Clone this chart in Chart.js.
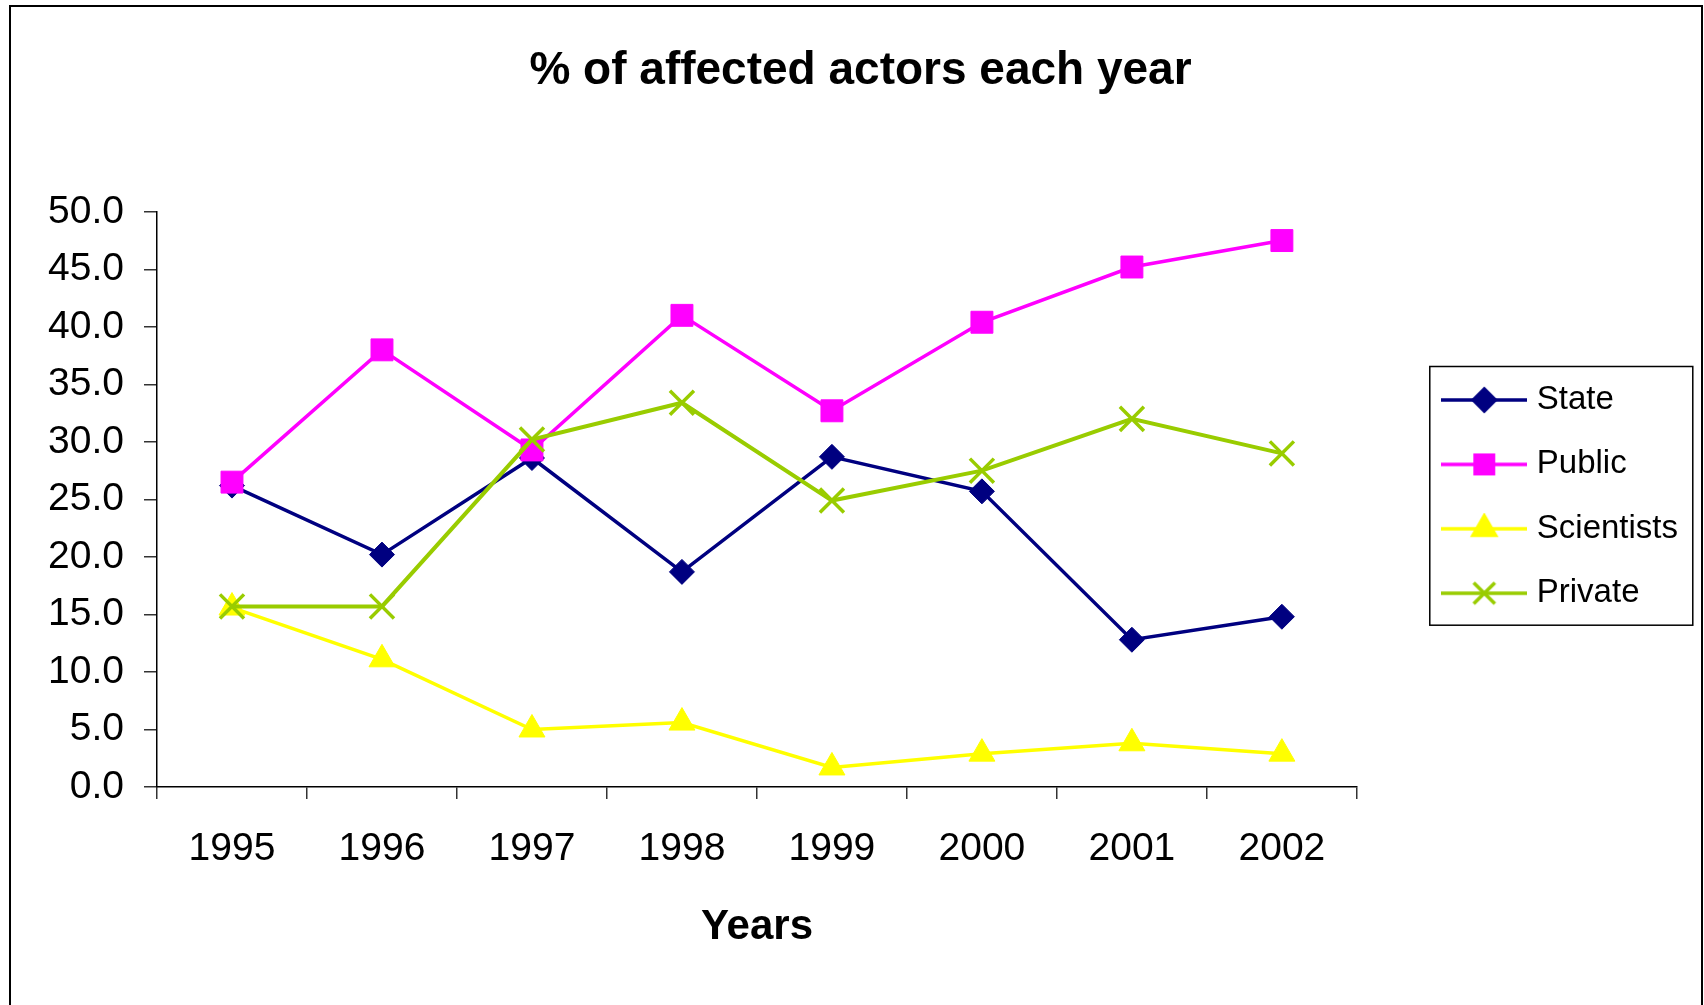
<!DOCTYPE html>
<html>
<head>
<meta charset="utf-8">
<script src="https://cdn.jsdelivr.net/npm/chart.js@4/dist/chart.umd.min.js"></script>
<style>
  html, body { margin: 0; padding: 0; background: #fff; }
  canvas { display: block; }
</style>
</head>
<body>
<canvas id="myChart" width="1704" height="1005"></canvas>
<script>
const years = ['1995', '1996', '1997', '1998', '1999', '2000', '2001', '2002'];
const stateData = [26.2, 20.2, 28.6, 18.7, 28.7, 25.7, 12.8, 14.8];
const publicData = [26.5, 38.0, 29.3, 41.0, 32.7, 40.4, 45.2, 47.5];
const scientistsData = [15.6, 11.1, 5.0, 5.6, 1.7, 2.9, 3.8, 2.9];
const privateData = [15.7, 15.7, 30.2, 33.4, 24.9, 27.5, 32.0, 29.0];

const FONT = '"Liberation Sans", Arial, sans-serif';

// legend icon: a short line with the marker in the middle
function legendIcon(color, style, radius) {
  const c = document.createElement('canvas');
  c.width = 86;
  c.height = 32;
  const g = c.getContext('2d');
  g.strokeStyle = color;
  g.fillStyle = color;
  g.lineWidth = 3.5;
  g.beginPath();
  g.moveTo(0, 16);
  g.lineTo(86, 16);
  g.stroke();
  Chart.helpers.drawPoint(g, {pointStyle: style, radius: radius, borderWidth: style === 'crossRot' ? 3 : 1, rotation: 0}, 43, 16);
  return c;
}

const icons = [
  legendIcon('#000080', 'rectRot', 11),
  legendIcon('#FF00FF', 'rect', 13),
  legendIcon('#FFFF00', 'triangle', 13),
  legendIcon('#99CC00', 'crossRot', 15)
];

// border round the whole picture and round the legend
const frames = {
  id: 'frames',
  afterDraw(chart) {
    const c = chart.ctx;
    c.save();
    c.strokeStyle = '#000';
    c.lineWidth = 2;
    c.strokeRect(10, 6, 1692, 1100);
    const hb = chart.legend.legendHitBoxes;
    if (hb && hb.length) {
      const first = hb[0], last = hb[hb.length - 1];
      c.lineWidth = 1.5;
      c.strokeRect(first.left - 18.5, first.top - 17, 263, last.top + last.height + 15.5 - (first.top - 17));
    }
    c.restore();
  }
};

const data = {
  labels: years,
  datasets: [{
    label: 'State',
    data: stateData,
    borderColor: '#000080',
    backgroundColor: '#000080',
    borderWidth: 3.5,
    pointStyle: 'rectRot',
    pointRadius: 12.5,
    pointBorderWidth: 1,
    order: 4
  }, {
    label: 'Public',
    data: publicData,
    borderColor: '#FF00FF',
    backgroundColor: '#FF00FF',
    borderWidth: 3.5,
    pointStyle: 'rect',
    pointRadius: 15.5,
    pointBorderWidth: 1,
    order: 3
  }, {
    label: 'Scientists',
    data: scientistsData,
    borderColor: '#FFFF00',
    backgroundColor: '#FFFF00',
    borderWidth: 3.5,
    pointStyle: 'triangle',
    pointRadius: 15,
    pointBorderWidth: 1,
    order: 2
  }, {
    label: 'Private',
    data: privateData,
    borderColor: '#99CC00',
    backgroundColor: '#99CC00',
    borderWidth: 4,
    pointStyle: 'crossRot',
    pointRadius: 17,
    pointBorderWidth: 3.5,
    order: 1
  }]
};

new Chart(document.getElementById('myChart'), {
  type: 'line',
  data: data,
  plugins: [frames],
  options: {
    responsive: false,
    animation: false,
    events: [],
    layout: {
      padding: {left: 33, right: 16, top: 0, bottom: 11.8}
    },
    elements: {
      line: {tension: 0, fill: false}
    },
    scales: {
      x: {
        type: 'category',
        offset: true,
        grid: {display: true, drawOnChartArea: false, offset: true, tickLength: 12, color: '#333', lineWidth: 1.5},
        border: {display: true, color: '#000', width: 1.5},
        ticks: {color: '#000', padding: 26.6, font: {family: FONT, size: 39}, maxRotation: 0},
        title: {
          display: true,
          text: 'Years',
          color: '#000',
          font: {family: FONT, size: 42, weight: 'bold'},
          padding: {top: 0, bottom: 41}
        },
        afterFit(s) { s.height = 206.2; }
      },
      y: {
        min: 0,
        max: 50,
        grid: {display: true, drawOnChartArea: false, tickLength: 13, color: '#333', lineWidth: 1.5},
        border: {display: true, color: '#000', width: 1.5},
        ticks: {
          stepSize: 5,
          color: '#000',
          padding: 20,
          font: {family: FONT, size: 39},
          callback: v => v.toFixed(1)
        },
        afterFit(s) { s.width = 124; }
      },
      gap: {
        position: 'right',
        display: true,
        grid: {display: false},
        border: {display: false},
        ticks: {display: false},
        afterFit(s) { s.width = 60; }
      }
    },
    plugins: {
      title: {
        display: true,
        text: '% of affected actors each year',
        color: '#000',
        font: {family: FONT, size: 46, weight: 'bold'},
        padding: {top: 44, bottom: 112.6}
      },
      legend: {
        position: 'right',
        labels: {
          usePointStyle: true,
          pointStyleWidth: 72,
          padding: 31.4,
          color: '#000',
          font: {family: FONT, size: 33},
          sort: (a, b) => a.datasetIndex - b.datasetIndex,
          generateLabels(chart) {
            const items = Chart.defaults.plugins.legend.labels.generateLabels(chart);
            items.forEach(it => { it.pointStyle = icons[it.datasetIndex]; });
            return items;
          }
        }
      },
      tooltip: {enabled: false}
    }
  }
});
</script>
</body>
</html>
